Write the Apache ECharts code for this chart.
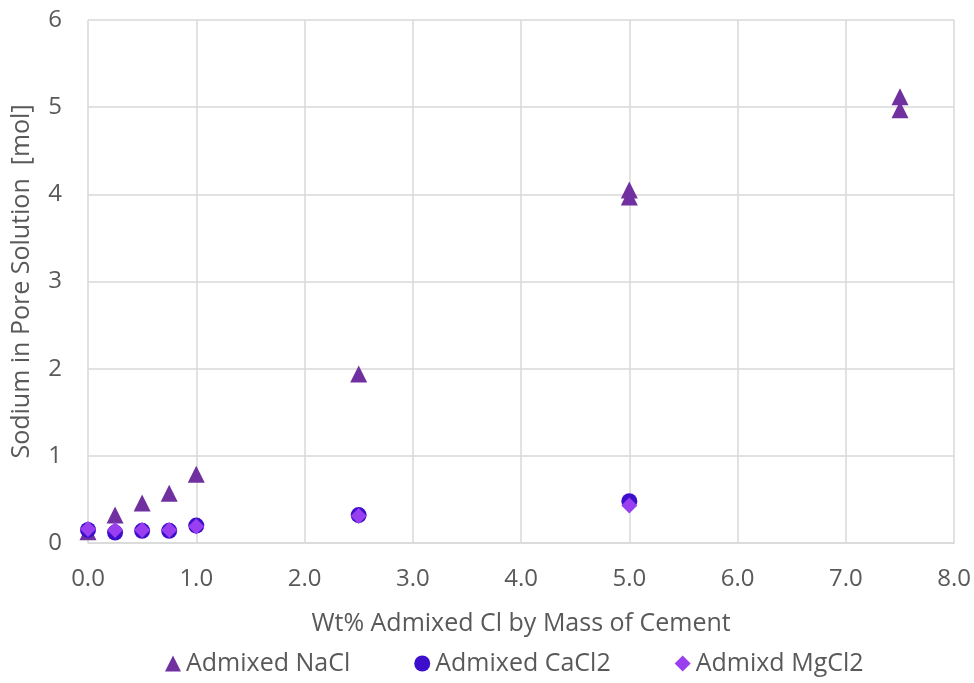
<!DOCTYPE html>
<html>
<head>
<meta charset="utf-8">
<script src="https://cdn.jsdelivr.net/npm/echarts@6/dist/echarts.min.js"></script>
<style>
html,body{margin:0;padding:0;background:#fff;}
#chart{width:974px;height:683px;}
</style>
</head>
<body>
<div id="chart"></div>
<script>
// Sodium concentration in pore solution vs admixed chloride content
const naclX = [0, 0.25, 0.5, 0.75, 1.0, 2.5, 5.0, 5.0, 7.5, 7.5];
const naclY = [0.13, 0.32, 0.46, 0.57, 0.79, 1.94, 4.05, 3.97, 5.12, 4.97];
const caclX = [0, 0.25, 0.5, 0.75, 1.0, 2.5, 5.0];
const caclY = [0.15, 0.12, 0.14, 0.14, 0.20, 0.32, 0.48];
const mgclX = [0, 0.25, 0.5, 0.75, 1.0, 2.5, 5.0];
const mgclY = [0.16, 0.15, 0.15, 0.15, 0.19, 0.31, 0.43];
const seriesNames = ['Admixed NaCl', 'Admixed CaCl2', 'Admixd MgCl2'];

const pair = (xs, ys) => xs.map((x, i) => [x, ys[i]]);
const font = 'Open Sans, Liberation Sans, sans-serif';
const grey = '#595959';
const fs = 24;

const chart = echarts.init(document.getElementById('chart'));
chart.setOption({
  animation: false,
  textStyle: { fontFamily: font },
  grid: { left: 88, right: 19, top: 20, bottom: 140 },
  xAxis: {
    type: 'value', min: 0, max: 8, interval: 1,
    name: 'Wt% Admixed Cl by Mass of Cement',
    nameLocation: 'middle', nameGap: 68,
    nameTextStyle: { fontSize: 25, color: grey, fontFamily: font },
    axisLine: { show: true, lineStyle: { color: '#d9d9d9', width: 1.5 } },
    axisTick: { show: false },
    axisLabel: { fontSize: fs, color: grey, margin: 24, formatter: v => v.toFixed(1) },
    splitLine: { show: true, lineStyle: { color: '#d9d9d9', width: 1.5 } }
  },
  yAxis: {
    type: 'value', min: 0, max: 6, interval: 1,
    name: 'Sodium in Pore Solution  [mol]',
    nameLocation: 'middle', nameGap: 54,
    nameTextStyle: { fontSize: 25, color: grey, fontFamily: font },
    axisLine: { show: false },
    axisTick: { show: false },
    axisLabel: { fontSize: fs, color: grey, margin: 26 },
    splitLine: { show: true, lineStyle: { color: '#d9d9d9', width: 1.5 } }
  },
  legend: {
    bottom: 2, left: 160, itemGap: 64, itemWidth: 16, itemHeight: 16,
    textStyle: { fontSize: 25, color: grey, fontFamily: font },
    data: seriesNames
  },
  series: [
    {
      name: seriesNames[0], type: 'scatter', symbol: 'triangle', symbolSize: 17,
      itemStyle: { color: '#7030a0', opacity: 1 }, data: pair(naclX, naclY)
    },
    {
      name: seriesNames[1], type: 'scatter', symbol: 'circle', symbolSize: 16,
      itemStyle: { color: '#3d0fcc', opacity: 1 }, data: pair(caclX, caclY)
    },
    {
      name: seriesNames[2], type: 'scatter', symbol: 'diamond', symbolSize: 16,
      itemStyle: { color: '#9a3ff0', opacity: 1 }, data: pair(mgclX, mgclY)
    }
  ]
});
</script>
</body>
</html>
